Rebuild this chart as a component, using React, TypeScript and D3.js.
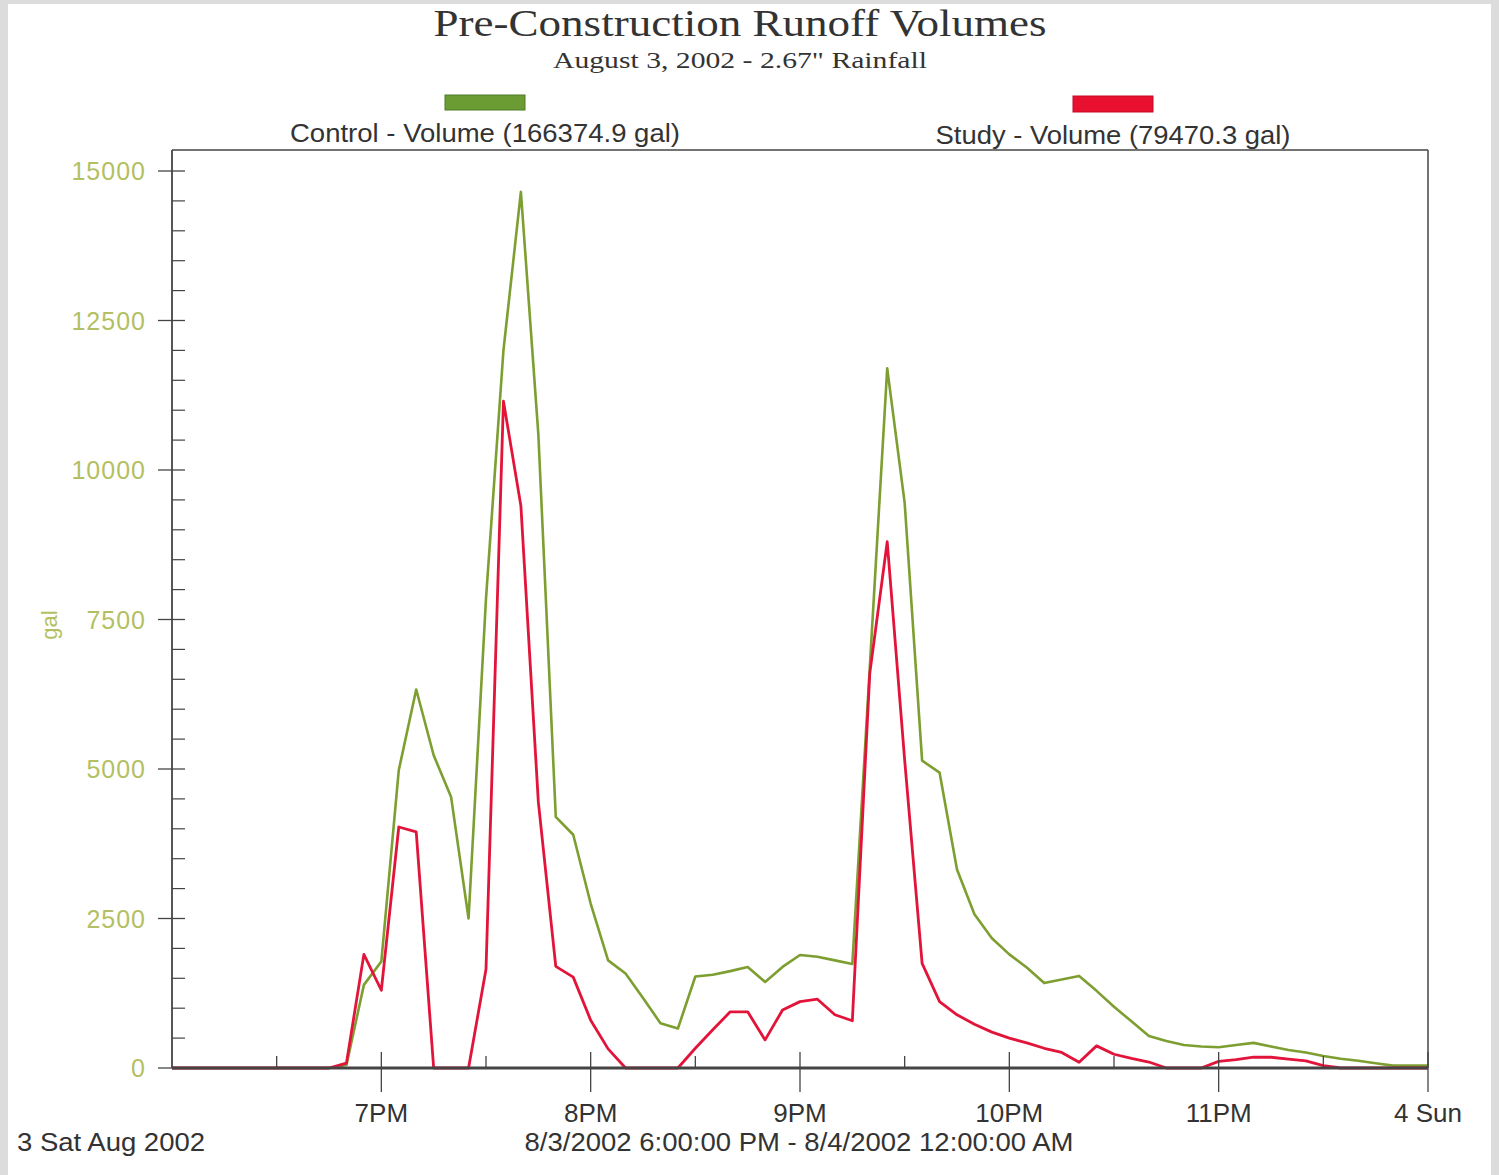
import React from "react";
import * as d3 from "d3";

const title = "Pre-Construction Runoff Volumes";
const subtitle = 'August 3, 2002 - 2.67" Rainfall';
const controlLabel = "Control - Volume (166374.9 gal)";
const studyLabel = "Study - Volume (79470.3 gal)";
const yTicks = [0, 2500, 5000, 7500, 10000, 12500, 15000];
const xTickLabels = ["7PM", "8PM", "9PM", "10PM", "11PM", "4 Sun"];
const dateLabel = "3 Sat Aug 2002";
const rangeLabel = "8/3/2002 6:00:00 PM - 8/4/2002 12:00:00 AM";

// 5-minute samples starting 8/3/2002 6:00 PM
const controlValues = [
  0, 0, 0, 0, 0, 0, 0, 0, 0, 0,
  50, 1390, 1780, 4980, 6330, 5230, 4530, 2500, 7850, 12000,
  14650, 10600, 4200, 3900, 2750, 1800, 1580, 1170, 750, 660,
  1530, 1560, 1620, 1690, 1440, 1690, 1890, 1860, 1800, 1740,
  6700, 11700, 9450, 5140, 4940, 3320, 2570, 2170, 1900, 1680,
  1420, 1480, 1540, 1290, 1025, 780, 535, 450, 385, 360,
  346, 385, 420, 360, 300, 260, 200, 155, 120, 80,
  40, 40, 40,
];
const studyValues = [
  0, 0, 0, 0, 0, 0, 0, 0, 0, 0,
  80, 1900, 1300, 4030, 3950, 0, 0, 0, 1650, 11150,
  9400, 4450, 1700, 1520, 800, 320, 0, 0, 0, 0,
  330, 640, 940, 940, 470, 970, 1110, 1150, 890, 790,
  6600, 8800, 5150, 1750, 1110, 890, 730, 600, 500, 420,
  330, 260, 95, 370, 230, 160, 100, 0, 0, 0,
  110, 140, 180, 180, 150, 120, 40, 0, 0, 0,
  0, 0, 0,
];

const W = 1499;
const H = 1175;
const left = 172;
const right = 1428;
const top = 150;
const bottom = 1068;

const start = new Date(2002, 7, 3, 18, 0, 0);
const end = new Date(2002, 7, 4, 0, 0, 0);

export default function App() {
  const x = d3.scaleTime().domain([start, end]).range([left, right]);
  const y = d3.scaleLinear().domain([0, 15000]).range([bottom, 171]);
  const t = (i: number) => new Date(start.getTime() + i * 5 * 60000);

  const line = d3
    .line<number>()
    .x((_, i) => x(t(i)))
    .y((d) => y(d));

  const hourTicks = d3.timeHour.every(1)!.range(d3.timeHour.offset(start, 1), d3.timeMinute.offset(end, 1));
  const halfTicks = d3.timeMinute.every(30)!.range(start, end).filter((d) => d.getMinutes() === 30);
  const minorY = d3.range(0, 15001, 500).filter((v) => v % 2500 !== 0);

  const green = "#7d9e30";
  const red = "#e2143a";
  const axis = "#444";
  const tickText = "#b3bf62";
  const sans = "Liberation Sans, Arial, sans-serif";
  const serif = "Liberation Serif, Times New Roman, serif";

  return (
    <div style={{ position: "absolute", left: 0, top: 0 }}>
      <svg width={W} height={H} style={{ display: "block" }}>
        <rect x={0} y={0} width={W} height={H} fill="#dcdcdc" />
        <rect x={8} y={4} width={1483} height={H - 4} fill="#ffffff" />

        <text x={740} y={36} textAnchor="middle" fontFamily={serif} fontSize={38} fill="#333" textLength={613} lengthAdjust="spacingAndGlyphs">
          {title}
        </text>
        <text x={740} y={68} textAnchor="middle" fontFamily={serif} fontSize={24} fill="#333" textLength={374} lengthAdjust="spacingAndGlyphs">
          {subtitle}
        </text>

        <rect x={445} y={95} width={80} height={15} fill="#6a9c33" stroke="#4f7a26" strokeWidth={1} />
        <rect x={1073} y={96} width={80} height={16} fill="#e8102e" stroke="#c00a22" strokeWidth={1} />
        <text x={485} y={142} textAnchor="middle" fontFamily={sans} fontSize={25} fill="#333" textLength={390} lengthAdjust="spacingAndGlyphs">
          {controlLabel}
        </text>
        <text x={1113} y={144} textAnchor="middle" fontFamily={sans} fontSize={25} fill="#333" textLength={355} lengthAdjust="spacingAndGlyphs">
          {studyLabel}
        </text>

        <path d={line(controlValues) || ""} fill="none" stroke={green} strokeWidth={2.6} strokeLinejoin="round" />
        <path d={line(studyValues) || ""} fill="none" stroke={red} strokeWidth={2.8} strokeLinejoin="round" />

        {/* frame */}
        <line x1={left} x2={right} y1={top} y2={top} stroke={axis} strokeWidth={1.5} />
        <line x1={right} x2={right} y1={top} y2={bottom} stroke={axis} strokeWidth={1.5} />
        <line x1={left} x2={left} y1={top} y2={bottom} stroke={axis} strokeWidth={1.8} />
        <line x1={left} x2={right} y1={bottom} y2={bottom} stroke={axis} strokeWidth={3} />

        {/* y ticks */}
        {yTicks.map((v) => (
          <g key={v}>
            <line x1={158} x2={185} y1={y(v)} y2={y(v)} stroke={axis} strokeWidth={1.3} />
            <text x={146} y={y(v) + 9} textAnchor="end" fontFamily={sans} fontSize={25} fill={tickText} letterSpacing={1}>
              {v}
            </text>
          </g>
        ))}
        {minorY.map((v) => (
          <line key={v} x1={left} x2={185} y1={y(v)} y2={y(v)} stroke={axis} strokeWidth={1.2} />
        ))}
        <text transform="translate(57,625) rotate(-90)" textAnchor="middle" fontFamily={sans} fontSize={22} fill={tickText}>
          gal
        </text>

        {/* x ticks */}
        {hourTicks.map((d, i) => (
          <g key={d.getTime()}>
            <line x1={x(d)} x2={x(d)} y1={1052} y2={1092} stroke={axis} strokeWidth={1.3} />
            <text x={x(d)} y={1122} textAnchor="middle" fontFamily={sans} fontSize={26} fill="#333">
              {xTickLabels[i]}
            </text>
          </g>
        ))}
        {halfTicks.map((d) => (
          <line key={d.getTime()} x1={x(d)} x2={x(d)} y1={1056} y2={bottom} stroke={axis} strokeWidth={1.3} />
        ))}
        <text x={17} y={1151} fontFamily={sans} fontSize={26} fill="#333" textLength={188} lengthAdjust="spacingAndGlyphs">
          {dateLabel}
        </text>
        <text x={799} y={1151} textAnchor="middle" fontFamily={sans} fontSize={26} fill="#333" textLength={549} lengthAdjust="spacingAndGlyphs">
          {rangeLabel}
        </text>
      </svg>
    </div>
  );
}
